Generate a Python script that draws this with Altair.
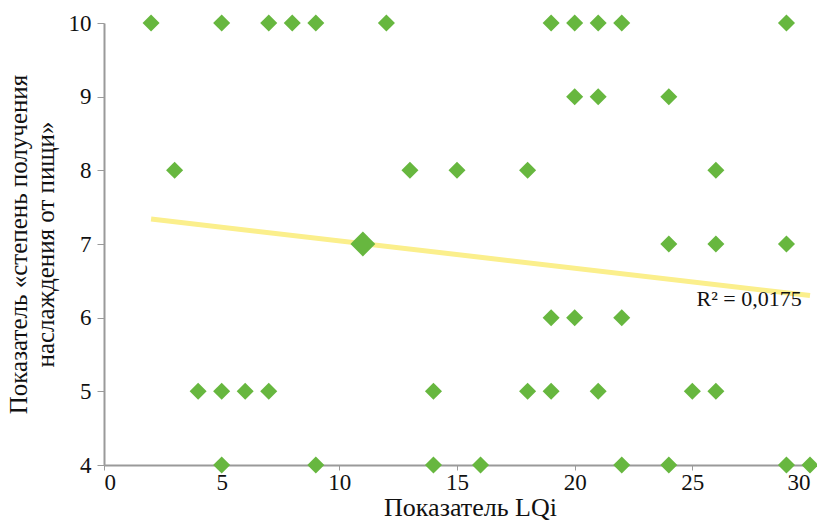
import altair as alt
import pandas as pd

# Scatter points (LQi, enjoyment score)
lqi = [2, 5, 7, 8, 9, 12, 19, 20, 21, 22, 29,
       20, 21, 24,
       3, 13, 15, 18, 26,
       24, 26, 29,
       19, 20, 22,
       4, 5, 6, 7, 14, 18, 19, 21, 25, 26,
       5, 9, 14, 16, 22, 24, 29, 30]
score = [10, 10, 10, 10, 10, 10, 10, 10, 10, 10, 10,
         9, 9, 9,
         8, 8, 8, 8, 8,
         7, 7, 7,
         6, 6, 6,
         5, 5, 5, 5, 5, 5, 5, 5, 5, 5,
         4, 4, 4, 4, 4, 4, 4, 4]

# Highlighted point
hl_x = [11]
hl_y = [7]

# Trend line endpoints
trend_x = [2, 30]
trend_y = [7.34, 6.30]

# Annotation
r2_label = ["R² = 0,0175"]
r2_x = [29.65]
r2_y = [6.26]

pts = pd.DataFrame({"x": lqi, "y": score})
hl = pd.DataFrame({"x": hl_x, "y": hl_y})
trend = pd.DataFrame({"x": trend_x, "y": trend_y})
ann = pd.DataFrame({"x": r2_x, "y": r2_y, "t": r2_label})

FONT = "Liberation Serif"

xscale = alt.Scale(domain=[0, 30], nice=False, zero=False)
yscale = alt.Scale(domain=[4, 10], nice=False, zero=False)

xaxis = alt.Axis(values=[0, 5, 10, 15, 20, 25, 30], title="Показатель LQi",
                 format="d",
                 grid=False, domainColor="#9a9a9a", tickColor="#9a9a9a",
                 tickSize=5, labelFont=FONT, labelFontSize=23, labelColor="#111",
                 titleFont=FONT, titleFontSize=26, titleFontWeight="normal",
                 titleColor="#111", labelPadding=1,
                 titleX=366, titleY=42, titleBaseline="middle",
                 domainWidth=2)
yaxis = alt.Axis(values=[4, 5, 6, 7, 8, 9, 10],
                 title=["Показатель «степень получения", "наслаждения от пищи»"],
                 format="d",
                 grid=False, domainColor="#9a9a9a", tickColor="#9a9a9a",
                 tickSize=7, labelFont=FONT, labelFontSize=23, labelColor="#111",
                 titleFont=FONT, titleFontSize=25, titleFontWeight="normal",
                 titleColor="#111", labelPadding=6,
                 titleX=-86, titleY=221, titleBaseline="middle", titleAlign="center",
                 titleLineHeight=27, domainWidth=2)

base_x = alt.X("x:Q", scale=xscale, axis=xaxis)
base_y = alt.Y("y:Q", scale=yscale, axis=yaxis)

line = alt.Chart(trend).mark_line(color="#fbef8c", strokeWidth=5, clip=False).encode(
    x=base_x, y=base_y)

points = alt.Chart(pts).mark_point(shape="diamond", filled=True, color="#67b73f",
                                   opacity=1, size=290, clip=False).encode(
    x=alt.X("x:Q", scale=xscale), y=alt.Y("y:Q", scale=yscale))

hpt = alt.Chart(hl).mark_point(shape="diamond", filled=True, color="#67b73f",
                               opacity=1, size=620, clip=False).encode(
    x=alt.X("x:Q", scale=xscale), y=alt.Y("y:Q", scale=yscale))

text = alt.Chart(ann).mark_text(font=FONT, fontSize=22, align="right",
                                baseline="middle", color="#111").encode(
    x=alt.X("x:Q", scale=xscale), y=alt.Y("y:Q", scale=yscale), text="t:N")

chart = alt.layer(line, points, hpt, text).properties(
    width=706, height=442,
    autosize=alt.AutoSizeParams(type="none"),
    padding={"left": 104, "top": 23, "right": 7, "bottom": 58},
    background="white",
).configure_view(stroke=None)

chart.save("out.html", embed_options={"renderer": "svg", "actions": False})
